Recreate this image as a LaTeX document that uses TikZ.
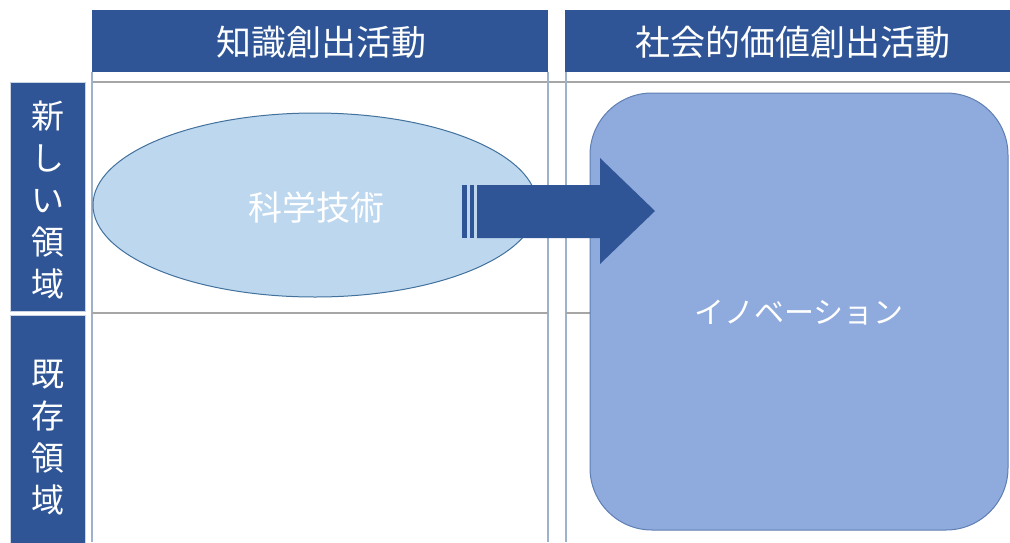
\documentclass[tikz,border=0pt]{standalone}
\usepackage{fontspec}
\setmainfont{Noto Sans CJK JP}
\usetikzlibrary{shapes.geometric}
\definecolor{hdrblue}{HTML}{2F5597}
\definecolor{ellfill}{HTML}{BDD7EE}
\definecolor{ellline}{HTML}{41719C}
\definecolor{rrfill}{HTML}{8FAADC}
\definecolor{rrline}{HTML}{5E7FB3}
\definecolor{gridline}{HTML}{9FB2CC}
\definecolor{grayline}{HTML}{A6A6A6}
\begin{document}
\begin{tikzpicture}[x=1pt,y=-1pt,
  hdrtext/.style={text=white,font=\fontsize{35}{40}\selectfont},
  rowtext/.style={text=white,align=center,font=\fontsize{33}{42}\selectfont},
  rowbox/.style={fill=hdrblue,draw=white!75!hdrblue,line width=1pt},
  grid/.style={draw=gridline,line width=1.6pt},
  hline/.style={draw=grayline,line width=1.6pt}]
\useasboundingbox (0,0) rectangle (1010,542);
% column headers
\fill[hdrblue] (92,10) rectangle (548,72);
\node[hdrtext] (h1) at (321,42) {知識創出活動};
\fill[hdrblue] (565,10) rectangle (1010,72);
\node[hdrtext] (h2) at (793,42) {社会的価値創出活動};
% grid lines
\draw[hline] (92,82) -- (1010,82);
\draw[grid] (92,72) -- (92,542);
\draw[grid] (548,72) -- (548,542);
\draw[grid] (566,72) -- (566,542);
\draw[hline] (92,313) -- (548,313);
\draw[hline] (566,313) -- (600,313);
% row headers
\draw[rowbox] (10,82) rectangle (85,311);
\node[rowtext] (r1) at (47.5,200) {新\\し\\い\\領\\域};
\draw[rowbox] (10,315) rectangle (85,545);
\node[rowtext] (r2) at (47.5,438) {既\\存\\領\\域};
% ellipse
\node[ellipse,fill=ellfill,draw=ellline,line width=1pt,minimum width=444pt,minimum height=184pt,inner sep=0pt] (sci) at (315,205) {};
\node[text=white,font=\fontsize{34}{40}\selectfont] (scit) at (316,208) {科学技術};
% rounded rectangle
\draw[fill=rrfill,draw=rrline,line width=1pt,rounded corners=62pt] (590,93) rectangle (1008,530);
\node[text=white,font=\fontsize{30}{36}\selectfont] (inno) at (799,313) {イノベーション};
% arrow
\fill[hdrblue] (462,185) rectangle (467,238);
\fill[hdrblue] (470,185) rectangle (474,238);
\fill[hdrblue] (477,185) -- (600,185) -- (600,158) -- (655,211) -- (600,264) -- (600,238) -- (477,238) -- cycle;
\end{tikzpicture}
\end{document}
